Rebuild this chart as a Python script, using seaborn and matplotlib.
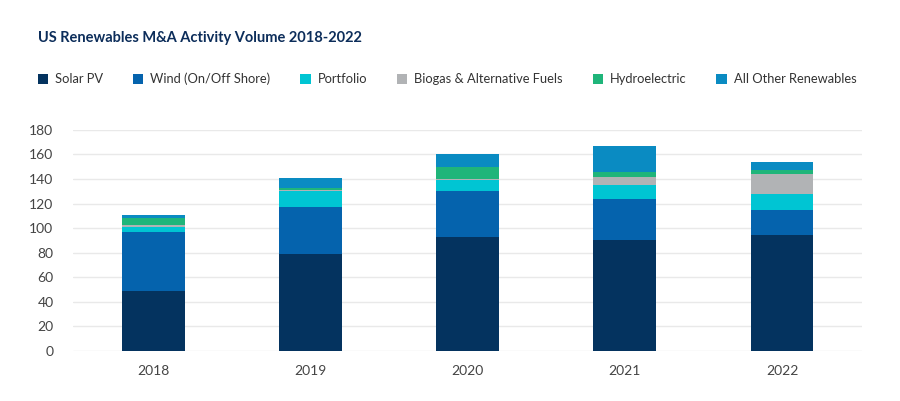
import numpy as np
import pandas as pd
import matplotlib.pyplot as plt
import seaborn as sns

# values
years = ["2018", "2019", "2020", "2021", "2022"]
solar_pv = [49, 79, 93, 90, 94]
wind = [48, 38, 37.5, 34, 21]
portfolio = [4, 13, 9, 11, 13]
biogas = [1.5, 1, 0.5, 7, 16]
hydro = [6, 1.5, 9.5, 3.5, 3]
other = [2.5, 8, 10.5, 21, 6.5]

series = ["Solar PV", "Wind (On/Off Shore)", "Portfolio", "Biogas & Alternative Fuels",
          "Hydroelectric", "All Other Renewables"]
colors = ["#04335f", "#0563ad", "#00c5d3", "#b1b3b5", "#1fb57a", "#0a8bc2"]

df = pd.DataFrame({"Year": years, "Solar PV": solar_pv, "Wind (On/Off Shore)": wind,
                   "Portfolio": portfolio, "Biogas & Alternative Fuels": biogas,
                   "Hydroelectric": hydro, "All Other Renewables": other})

sns.set_theme(style="white")
plt.rcParams["font.family"] = ["Lato", "DejaVu Sans"]

fig = plt.figure(figsize=(9, 4.01), dpi=100)
ax = fig.add_axes([0.081, 0.125, 0.877, 0.551])

# stack the series one on top of the other
bottom = np.zeros(len(years))
for name, col in zip(series, colors):
    sns.barplot(data=df, x="Year", y=name, color=col, bottom=bottom, width=0.4,
                ax=ax, label=name, linewidth=0, saturation=1)
    bottom += df[name].values

ax.set_ylim(0, 180)
ax.set_xlim(-0.51, 4.51)
ax.set_yticks(range(0, 181, 20))
ax.set_xlabel("")
ax.set_ylabel("")
ax.yaxis.grid(True, color="#e9e9e9", linewidth=1)
ax.set_axisbelow(True)
sns.despine(ax=ax, left=True, bottom=True)
ax.tick_params(axis="both", colors="#444444", labelsize=10, length=0)
ax.tick_params(axis="y", pad=14)
ax.tick_params(axis="x", pad=10)

if ax.legend_:
    ax.legend_.remove()
handles, labels = ax.get_legend_handles_labels()
fig.legend(handles, labels, loc="center left", bbox_to_anchor=(0.029, 0.803), ncol=6,
           frameon=False, fontsize=9.3, handlelength=0.8, handleheight=0.8,
           handletextpad=0.55, columnspacing=2.3, labelcolor="#333333")

fig.text(0.042, 0.905, "US Renewables M&A Activity Volume 2018-2022", fontsize=10.5,
         fontweight="bold", color="#0c2d5a", va="center")

fig.savefig("out.png", dpi=100, facecolor="white")
